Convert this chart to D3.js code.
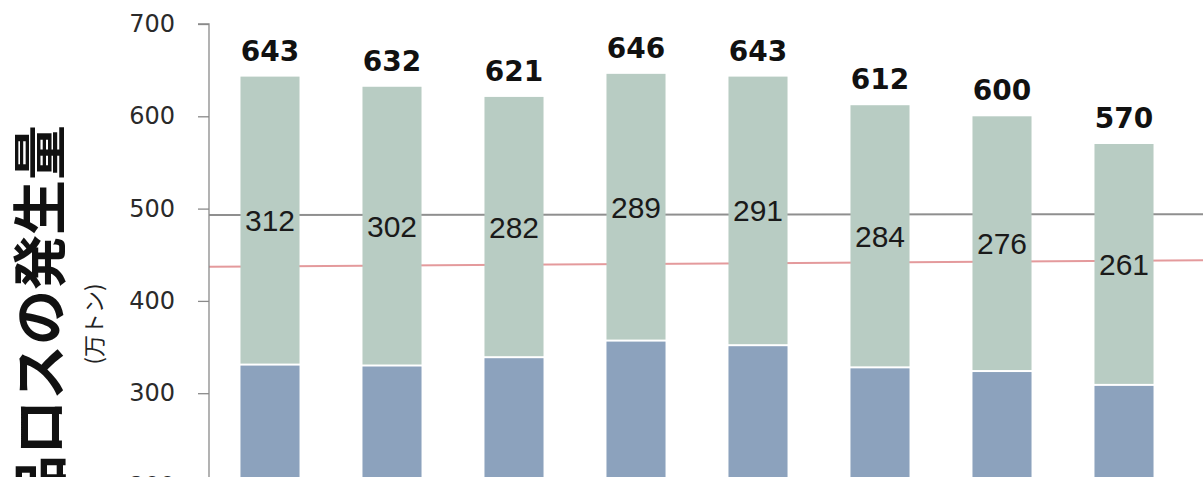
<!DOCTYPE html>
<html>
<head>
<meta charset="utf-8">
<script src="https://cdn.jsdelivr.net/npm/d3@7/dist/d3.min.js"></script>
<style>
  html, body { margin: 0; padding: 0; background: #fff; }
  svg { display: block; }
</style>
</head>
<body>
<svg id="chart" width="1203" height="477"></svg>
<script>
// ---- data ----
const categories = ["2012", "2013", "2014", "2015", "2016", "2017", "2018", "2019"];
const business   = [331, 330, 339, 357, 352, 328, 324, 309];
const household  = [312, 302, 282, 289, 291, 284, 276, 261];
const totals     = [643, 632, 621, 646, 643, 612, 600, 570];
const yTicks     = [200, 300, 400, 500, 600, 700];
const greyLine   = [493, 494];   // reference line values, left end -> right end
const redLine    = [437, 444];
const yTitle     = "食品ロスの発生量";
const yUnit      = "(万トン)";

// ---- layout ----
const svg = d3.select("#chart");
const W = 1203, H = 477;
const axisX = 209;
const plotRight = axisX + 8 * 122;

const x = d3.scaleBand()
  .domain(categories)
  .range([axisX, plotRight])
  .paddingInner(0.516)
  .paddingOuter(0.258);

const y = d3.scaleLinear()
  .domain([0, 700])
  .range([24 + 700 * 0.923, 24]);

const xLine = d3.scaleLinear().domain([0, 1]).range([axisX, W]);

// reference lines (behind bars)
const lineGen = d3.line().x((d, i) => xLine(i)).y(d => y(d));
svg.append("path").datum(greyLine)
  .attr("d", lineGen).attr("fill", "none")
  .attr("stroke", "#8f8f8f").attr("stroke-width", 2);
svg.append("path").datum(redLine)
  .attr("d", lineGen).attr("fill", "none")
  .attr("stroke", "#e49a9c").attr("stroke-width", 2);

// stacked bars
const rows = categories.map((c, i) => ({ c, b: business[i], h: household[i], t: totals[i] }));
const stack = d3.stack().keys(["b", "h"])(rows);
const colors = { b: "#8ca2bd", h: "#b8ccc3" };

stack.forEach(layer => {
  svg.append("g").selectAll("rect").data(layer).join("rect")
    .attr("x", d => x(d.data.c))
    .attr("width", x.bandwidth())
    .attr("y", d => y(d[1]) + (layer.key === "b" ? 1 : 0))
    .attr("height", d => y(d[0]) - y(d[1]) - 1)
    .attr("fill", colors[layer.key]);
});

// inner labels (household segment)
svg.append("g").selectAll("text").data(stack[1]).join("text")
  .attr("x", d => x(d.data.c) + x.bandwidth() / 2)
  .attr("y", d => y((d[0] + d[1]) / 2))
  .attr("text-anchor", "middle")
  .attr("dominant-baseline", "central")
  .attr("font-family", "Liberation Sans, Arial, sans-serif")
  .attr("font-size", 30)
  .attr("fill", "#1a1a1a")
  .text(d => d.data.h);

// total labels
svg.append("g").selectAll("text").data(rows).join("text")
  .attr("x", d => x(d.c) + x.bandwidth() / 2)
  .attr("y", d => y(d.t) - 16)
  .attr("text-anchor", "middle")
  .attr("font-family", "DejaVu Sans, sans-serif")
  .attr("font-weight", "bold")
  .attr("font-size", 28)
  .attr("fill", "#111")
  .text(d => d.t);

// y axis
const yAxis = d3.axisLeft(y).tickValues(yTicks).tickSize(11).tickPadding(23);
const ga = svg.append("g").attr("transform", `translate(${axisX},0)`).call(yAxis);
ga.select(".domain").attr("stroke", "#8a8a8a").attr("stroke-width", 1.3)
  .attr("d", `M-11,${y(700)}H0V${H + 20}`);
ga.selectAll(".tick line").attr("stroke", "#8a8a8a").attr("stroke-width", 1.3);
ga.selectAll(".tick text")
  .attr("font-family", "DejaVu Sans, sans-serif")
  .attr("font-size", 24)
  .attr("fill", "#2a2a2a");

// y titles
svg.append("text")
  .attr("transform", `translate(36,125) rotate(-90)`)
  .attr("text-anchor", "end")
  .attr("dominant-baseline", "central")
  .attr("font-family", "Noto Sans CJK JP, sans-serif")
  .attr("font-weight", "bold")
  .attr("font-size", 55)
  .attr("fill", "#111")
  .text(yTitle);

svg.append("text")
  .attr("transform", `translate(92,324) rotate(-90)`)
  .attr("text-anchor", "middle")
  .attr("dominant-baseline", "central")
  .attr("font-family", "Noto Sans CJK JP, sans-serif")
  .attr("font-size", 22)
  .attr("fill", "#222")
  .text(yUnit);
</script>
</body>
</html>
